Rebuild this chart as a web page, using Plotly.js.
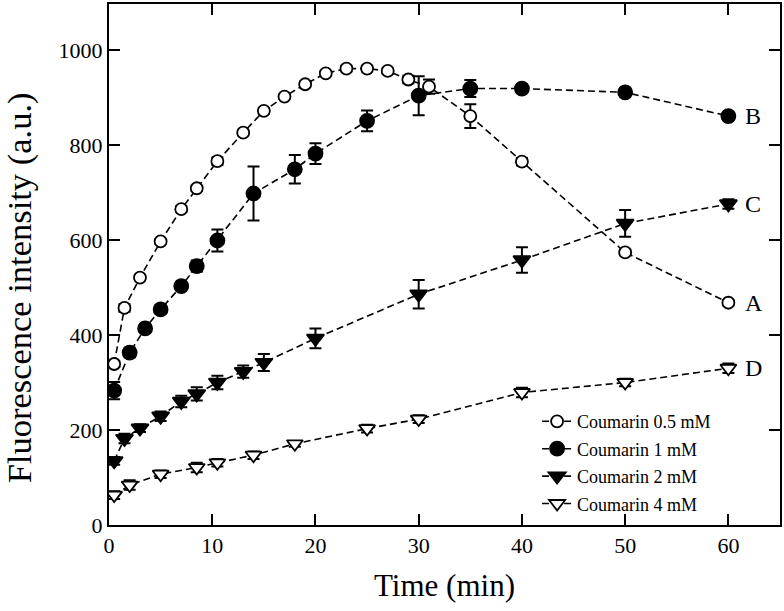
<!DOCTYPE html>
<html><head><meta charset="utf-8">
<script src="https://cdn.plot.ly/plotly-3.0.1.min.js"></script>
<style>html,body{margin:0;padding:0;background:#fff}#chart{width:784px;height:611px}</style>
</head><body><div id="chart"></div>
<script>
const tA = [0.5,1.5,3,5,7,8.5,10.5,13,15,17,19,21,23,25,27,29,31,35,40,50,60];
const yA = [339,457,521,597,665,709,766,826,872,902,928,951,961,961,956,938,923,861,765,574,468];
const eA = [6,8,6,5,6,6,8,6,6,5,6,5,6,6,5,8,15,25,8,6,6];

const tB = [0.5,2,3.5,5,7,8.5,10.5,14,18,20,25,30,35,40,50,60];
const yB = [283,363,414,454,503,545,599,698,749,782,851,904,919,919,911,861];
const eB = [18,10,8,8,8,12,23,57,30,22,22,41,18,6,8,8];

const tC = [0.5,1.5,3,5,7,8.5,10.5,13,15,20,30,40,50,60];
const yC = [135,182,204,229,260,276,300,323,342,393,486,558,635,676];
const eC = [8,10,8,10,12,14,14,13,18,21,30,27,28,10];

const tD = [0.5,2,5,8.5,10.5,14,18,25,30,40,50,60];
const yD = [63,84,107,121,131,147,171,203,223,279,300,330];
const eD = [8,10,8,10,8,8,6,8,8,10,8,10];

const names = ["Coumarin 0.5 mM","Coumarin 1 mM","Coumarin 2 mM","Coumarin 4 mM"];
const curveLabels = ["A","B","C","D"];
const xTicks = [0,10,20,30,40,50,60];
const yTicks = [0,200,400,600,800,1000];
const xTitle = "Time (min)";
const yTitle = "Fluorescence intensity (a.u.)";

const FONT = "Liberation Serif, Times New Roman, serif";
const lineStyle = {color:"#000", width:1.6, dash:"7px,4px"};
function errBar(arr){return {type:"data", array:arr, visible:true, color:"#000", thickness:2, width:6};}

const series = [
  {x:tA, y:yA, e:eA, sym:"circle", fill:"#fff", size:12},
  {x:tB, y:yB, e:eB, sym:"circle", fill:"#000", size:14},
  {x:tC, y:yC, e:eC, sym:"triangle-down", fill:"#000", size:15},
  {x:tD, y:yD, e:eD, sym:"triangle-down", fill:"#fff", size:14}
];

const data = series.map((s,i)=>({
  x:s.x, y:s.y, type:"scatter", mode:"lines+markers", name:names[i],
  legendgroup:"g"+i,
  line:lineStyle,
  marker:{symbol:s.sym, size:s.size, color:s.fill, line:{color:"#000", width:1.8}},
  error_y:errBar(s.e)
}));

const annotations = series.map((s,i)=>({
  x:s.x[s.x.length-1], y:s.y[s.y.length-1], xref:"x", yref:"y",
  text:curveLabels[i], showarrow:false, xanchor:"left", xshift:15,
  font:{family:FONT, size:24, color:"#000"}
}));
annotations.push({
  text:yTitle, textangle:-90, showarrow:false,
  xref:"paper", yref:"paper", x:-0.132, y:0.455, xanchor:"center", yanchor:"middle",
  font:{family:FONT, size:34.5, color:"#000"}
});

const axisCommon = {
  showline:true, linecolor:"#000", linewidth:2, mirror:"ticks",
  ticks:"inside", ticklen:11, tickwidth:2, tickcolor:"#000",
  showgrid:false, zeroline:false,
  tickfont:{family:FONT, size:22, color:"#000"}
};

const layout = {
  width:784, height:611,
  margin:{l:109, r:4, t:4, b:86},
  paper_bgcolor:"#fff", plot_bgcolor:"#fff",
  font:{family:FONT, color:"#000"},
  xaxis:Object.assign({}, axisCommon, {
    range:[0,65], tickvals:xTicks, ticktext:xTicks.map(String),
    title:{text:xTitle, font:{family:FONT, size:31, color:"#000"}, standoff:17}
  }),
  yaxis:Object.assign({}, axisCommon, {
    range:[0,1097], tickvals:yTicks, ticktext:yTicks.map(String)
  }),
  showlegend:true,
  legend:{x:0.638, y:0.234, xanchor:"left", yanchor:"top", bgcolor:"rgba(0,0,0,0)",
    font:{family:FONT, size:18, color:"#000"}, tracegroupgap:1, itemwidth:30},
  annotations:annotations
};

Plotly.newPlot("chart", data, layout, {displayModeBar:false, staticPlot:true});
</script>
</body></html>
